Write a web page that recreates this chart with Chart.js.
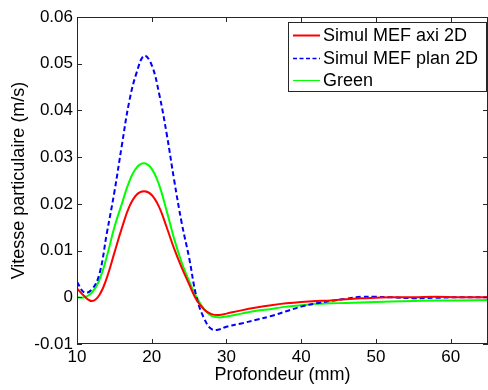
<!DOCTYPE html>
<html>
<head>
<meta charset="utf-8">
<script src="https://cdn.jsdelivr.net/npm/chart.js@4.4.0/dist/chart.umd.min.js"></script>
<style>
html, body { margin: 0; padding: 0; background: #fff; }
#wrap { width: 488px; height: 390px; }
</style>
</head>
<body>
<div id="wrap"><canvas id="profil__chart"></canvas></div>
<script>
// Profondeur (mm)
var depth = [10, 11, 12, 13, 14, 15, 16, 17, 18, 19, 20, 21, 22, 23, 24, 25, 26, 27, 28, 29, 30,
             32, 34, 36, 38, 40, 42, 44, 46, 48, 50,
             52, 55, 58, 61, 65];

// Vitesse particulaire (m/s)
var axi2D = [0.0019, 0.0002, -0.0008, 0.0005, 0.0042, 0.0095, 0.0148, 0.0194, 0.0220, 0.0227, 0.0219,
             0.0193, 0.0150, 0.0104, 0.0064, 0.0028, -0.0006, -0.0026, -0.0036, -0.0038, -0.0035,
             -0.0028, -0.0022, -0.0017, -0.0013, -0.0010, -0.0008, -0.0007, -0.0004, -0.0002, -0.0001,
             0.0, 0.0, 0.0001, 0.0, 0.0];

var plan2D = [0.0033, 0.0010, 0.0017, 0.0050, 0.0138, 0.0225, 0.0325, 0.0420, 0.0482, 0.0517, 0.0497,
              0.0435, 0.0350, 0.0251, 0.0160, 0.0085, 0.0000, -0.0045, -0.0068, -0.0069, -0.0063,
              -0.0056, -0.0048, -0.0040, -0.0030, -0.0020, -0.0013, -0.0008, -0.0003, 0.0001, 0.0001,
              0.0, -0.0002, -0.0001, 0.0, 0.0];

var green = [0.0, 0.0, 0.0010, 0.0037, 0.0088, 0.0150, 0.0200, 0.0248, 0.0278, 0.0287, 0.0275,
             0.0240, 0.0185, 0.0125, 0.0075, 0.0035, 0.0, -0.0025, -0.0040, -0.0043, -0.0041,
             -0.0035, -0.0029, -0.0025, -0.0020, -0.0017, -0.0014, -0.0013, -0.0012, -0.0011, -0.0010,
             -0.0009, -0.0008, -0.0007, -0.0007, -0.0006];

var seriesNames = ['Simul MEF axi 2D', 'Simul MEF plan 2D', 'Green'];
var xTicks = [10, 20, 30, 40, 50, 60];
var yTicks = [-0.01, 0, 0.01, 0.02, 0.03, 0.04, 0.05, 0.06];

var FONT = "'Liberation Sans', Arial, sans-serif";

function pts(ys) {
    return depth.map(function (d, i) { return {x: d, y: ys[i]}; });
}

// boite façon matlab : cadre, graduations vers l'interieur, legende en haut a droite
var matlabFrame = {
    id: 'matlabFrame',
    afterDatasetsDraw: function (chart) {
        var ctx = chart.ctx, a = chart.chartArea;
        var xs = chart.scales.x, ys = chart.scales.y;
        ctx.save();
        ctx.strokeStyle = '#262626';
        ctx.lineWidth = 1;
        ctx.setLineDash([]);
        ctx.strokeRect(a.left + 0.5, a.top + 0.5, a.right - a.left - 1, a.bottom - a.top - 1);
        ctx.beginPath();
        xTicks.forEach(function (v) {
            var px = Math.round(xs.getPixelForValue(v)) + 0.5;
            ctx.moveTo(px, a.bottom); ctx.lineTo(px, a.bottom - 5);
            ctx.moveTo(px, a.top); ctx.lineTo(px, a.top + 5);
        });
        yTicks.forEach(function (v) {
            var py = Math.round(ys.getPixelForValue(v)) + 0.5;
            ctx.moveTo(a.left, py); ctx.lineTo(a.left + 5, py);
            ctx.moveTo(a.right, py); ctx.lineTo(a.right - 5, py);
        });
        ctx.stroke();

        // legende
        var bx = 288, by = 22, bw = 199, bh = 70;
        ctx.fillStyle = '#fff';
        ctx.fillRect(bx, by, bw, bh);
        ctx.strokeStyle = '#262626';
        ctx.strokeRect(bx + 0.5, by + 0.5, bw - 1, bh - 1);
        var widths = [2, 1.5, 1];
        chart.data.datasets.forEach(function (ds, i) {
            var ly = 35 + i * 22.7;
            ctx.beginPath();
            ctx.strokeStyle = ds.borderColor;
            ctx.lineWidth = widths[i];
            ctx.setLineDash(ds.borderDash ? [4, 2.5] : []);
            ctx.moveTo(293, Math.round(ly) + 0.5);
            ctx.lineTo(320, Math.round(ly) + 0.5);
            ctx.stroke();
            ctx.setLineDash([]);
            ctx.fillStyle = '#000';
            ctx.font = '18px ' + FONT;
            ctx.textBaseline = 'middle';
            ctx.textAlign = 'left';
            ctx.fillText(ds.label, 323, ly + 1);
        });
        ctx.restore();
    }
};

var ctx = document.getElementById('profil__chart').getContext('2d');
var profilChart = new Chart(ctx, {
    type: 'line',
    data: {
        datasets: [{
            label: seriesNames[0],
            data: pts(axi2D),
            borderColor: '#ff0000',
            borderWidth: 2,
            pointRadius: 0,
            tension: 0.4,
            fill: false
        }, {
            label: seriesNames[1],
            data: pts(plan2D),
            borderColor: '#0000ff',
            borderWidth: 2,
            borderDash: [5, 3],
            pointRadius: 0,
            tension: 0.4,
            fill: false
        }, {
            label: seriesNames[2],
            data: pts(green),
            borderColor: '#00ff00',
            borderWidth: 2,
            pointRadius: 0,
            tension: 0.4,
            fill: false
        }]
    },
    options: {
        responsive: true,
        maintainAspectRatio: false,
        animation: false,
        devicePixelRatio: 1,
        layout: { padding: { top: 17, right: 0, left: 0, bottom: 0 } },
        plugins: {
            legend: { display: false },
            tooltip: { enabled: false }
        },
        scales: {
            x: {
                type: 'linear',
                min: 10,
                max: 65,
                grid: { display: false, drawTicks: false },
                border: { display: false },
                ticks: {
                    stepSize: 10,
                    includeBounds: false,
                    autoSkip: false,
                    maxRotation: 0,
                    padding: 3,
                    color: '#000',
                    font: { family: FONT, size: 17 },
                    callback: function (v) { return xTicks.indexOf(v) >= 0 ? String(v) : ''; }
                },
                title: {
                    display: true,
                    text: 'Profondeur (mm)',
                    color: '#000',
                    font: { family: FONT, size: 18 },
                    padding: { top: 0, bottom: 4 }
                },
                afterFit: function (s) { s.height = 46; }
            },
            y: {
                min: -0.01,
                max: 0.06,
                grid: { display: false, drawTicks: false },
                border: { display: false },
                ticks: {
                    stepSize: 0.01,
                    padding: 4,
                    color: '#000',
                    font: { family: FONT, size: 17 },
                    callback: function (v) {
                        var r = Math.round(v * 100) / 100;
                        return r === 0 ? '0' : r.toFixed(2);
                    }
                },
                title: {
                    display: true,
                    text: 'Vitesse particulaire (m/s)',
                    color: '#000',
                    font: { family: FONT, size: 18 },
                    padding: { top: 8, bottom: 0 }
                },
                afterFit: function (s) { s.width = 77; }
            }
        }
    },
    plugins: [matlabFrame]
});
</script>
</body>
</html>
